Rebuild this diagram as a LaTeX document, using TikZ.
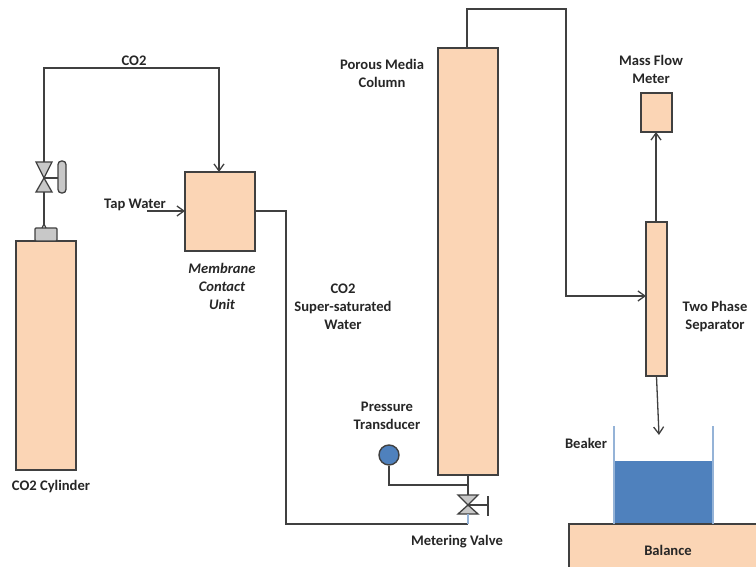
\documentclass[tikz,border=0pt]{standalone}
\usepackage{fontspec}
\setmainfont{Carlito}
\usetikzlibrary{arrows.meta}
\definecolor{peach}{HTML}{FBD5B5}
\definecolor{water}{HTML}{4F81BD}
\definecolor{wall}{HTML}{95B3D7}
\definecolor{line}{HTML}{404040}
\definecolor{metal}{HTML}{C8C8C8}
\tikzset{
  x=1pt,y=-1pt,
  unit/.style={draw=line,fill=peach,line width=1.4pt,inner sep=0pt},
  pipe/.style={draw=line,line width=1.3pt},
  flow/.style={pipe,-{Straight Barb[length=7pt,width=10pt]}},
  lab/.style={font=\fontsize{14.6}{18}\selectfont\bfseries,text=black!85,align=center,inner sep=0pt,yshift=-1.5pt},
  labi/.style={lab,font=\fontsize{14.6}{18}\selectfont\bfseries\itshape},
  fit/.style={draw=line,line width=1.3pt,fill=metal}
}
\begin{document}
\begin{tikzpicture}
\useasboundingbox (0,0) rectangle (756,567);
% units
\node[unit,minimum width=60pt,minimum height=229pt] (cyl) at (46,355.5) {};
\node[fit,inner sep=0pt,minimum width=22pt,minimum height=13pt,rounded corners=1pt] (cap) at (46,234.5) {};
\coordinate (captop) at (44,224);
\node[unit,minimum width=70pt,minimum height=79pt] (mem) at (220,211.5) {};
\node[unit,minimum width=60pt,minimum height=427pt] (col) at (468,261.5) {};
\node[unit,minimum width=31pt,minimum height=39pt] (mfm) at (656.5,112.5) {};
\node[unit,minimum width=21pt,minimum height=154pt] (sep) at (656.5,299) {};
\node[fill=water,inner sep=0pt,minimum width=99pt,minimum height=63pt] (wat) at (663.5,492.5) {};
\node[unit,minimum width=200pt,minimum height=50pt] (bal) at (669,549) {};
% beaker walls
\coordinate (wl) at (614,426); \coordinate (wr) at (713,426);
\draw[draw=wall,line width=1.4pt] (wl) -- (614,524);
\draw[draw=wall,line width=1.4pt] (wr) -- (713,524);
% inlet valve
\coordinate (v1) at (44,178);
\coordinate (v1t) at (44,162); \coordinate (v1b) at (44,192);
\draw[pipe,fill=metal] (36,162) -- (52,162) -- (v1) -- cycle;
\draw[pipe,fill=metal] (36,192) -- (52,192) -- (v1) -- cycle;
\draw[pipe] (v1) -- (58,178);
\node[fit,rounded corners=3.5pt,inner sep=0pt,minimum width=8pt,minimum height=32pt] (h1) at (62,177) {};
\draw[pipe] (v1b) -- (captop);
\draw[pipe] (captop) ++(-2,4) -- ++(2,-4) -- ++(2,4);
% metering valve
\coordinate (v2) at (468,505);
\coordinate (v2t) at (468,495); \coordinate (v2b) at (468,514);
\draw[pipe,fill=metal] (458,495) -- (478,495) -- (v2) -- cycle;
\draw[pipe,fill=metal] (458,514) -- (478,514) -- (v2) -- cycle;
\coordinate (h2) at (488,505);
\draw[pipe] (v2) -- (h2);
\draw[pipe] (488,496) -- (488,516);
% pressure transducer
\node[circle,draw=line,fill=water,line width=1.4pt,inner sep=0pt,minimum size=20pt] (pt) at (389,455) {};
\coordinate (ptj) at (468,485);
% pipes
\draw[pipe] (col.south -| v2) -- (v2t);
\draw[pipe] (pt.south) |- (ptj);
\draw[flow] (v1t) -- (44,68) -- (219,68) -- (219,172);
\coordinate (tw) at (147,211);
\draw[flow] (tw) -- (185,211);
\coordinate (mb) at (468,524);
\draw[pipe] (255,211) -- (286,211) -- (286,524) -- (mb);
\draw[draw=wall,line width=1.2pt] (mb) -- (v2b);
\draw[flow] (467,48) -- (467,9) -- (566,9) -- (566,296) -- (646,296);
\coordinate (sn) at (656,222); \coordinate (ms) at (656,132);
\draw[flow] (sn) -- (ms);
\coordinate (arr) at (659,435);
\draw[flow] (sep.south) -- (arr);
% labels
\node[lab] (l1) at (134,59) {CO2};
\node[lab] (l2) at (135,203) {Tap Water};
\node[labi] (l3) at (222,285) {Membrane\\Contact\\Unit};
\node[lab] (l4) at (343,305) {CO2\\Super-saturated\\Water};
\node[lab] (l5) at (51,485) {CO2 Cylinder};
\node[lab] (l6) at (382,72) {Porous Media\\Column};
\node[lab] (l7) at (651,68) {Mass Flow\\Meter};
\node[lab] (l8) at (715,315) {Two Phase\\Separator};
\node[lab] (l9) at (387,414) {Pressure\\Transducer};
\node[lab] (l10) at (457,540) {Metering Valve};
\node[lab] (l11) at (586,442) {Beaker};
\node[lab] (l12) at (668,549) {Balance};
\end{tikzpicture}
\end{document}
